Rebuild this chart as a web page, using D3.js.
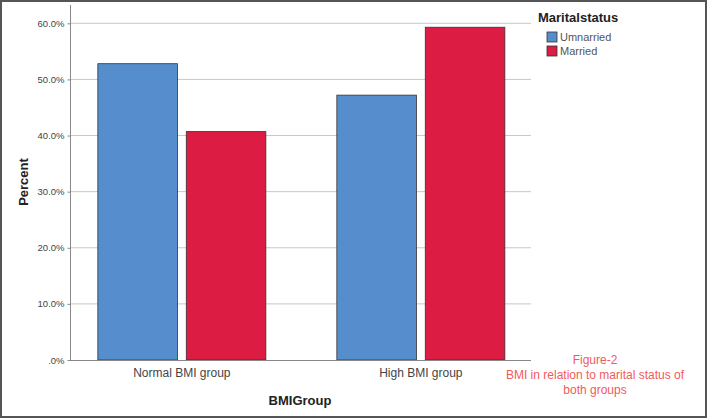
<!DOCTYPE html>
<html><head><meta charset="utf-8">
<script src="https://cdn.jsdelivr.net/npm/d3@7"></script>
<style>body{margin:0;background:#fff}svg{display:block;font-family:"Liberation Sans",Arial,sans-serif}</style>
</head><body>
<svg id="c" width="710" height="418"></svg>
<script>
const categories = ["Normal BMI group", "High BMI group"];
const seriesNames = ["Umnarried", "Married"];
const unmarried = [52.8, 47.2];
const married = [40.7, 59.3];
const yTicks = [0, 10, 20, 30, 40, 50, 60];
const colors = ["#568ecd", "#dc1c42"];
const captionLines = ["Figure-2", "BMI in relation to marital status of", "both groups"];

const svg = d3.select("#c");
svg.append("rect").attr("x",1).attr("y",1).attr("width",705).attr("height",416)
  .attr("fill","#fff").attr("stroke","#555").attr("stroke-width",2);

const y = d3.scaleLinear().domain([0,60]).range([360,23.3]);
const x0 = d3.scaleBand().domain(categories).range([62.35,540.35]).paddingInner(0.297).paddingOuter(0.1485);
const x1 = d3.scaleBand().domain(seriesNames).range([0,x0.bandwidth()]).paddingInner(0.1);

// gridlines
svg.append("g").selectAll("line").data(yTicks.filter(d=>d>0)).join("line")
  .attr("x1",71).attr("x2",531).attr("y1",d=>y(d)).attr("y2",d=>y(d))
  .attr("stroke","#c8c8c8").attr("stroke-width",1);

// y axis
const yAxis = d3.axisLeft(y).tickValues(yTicks).tickSize(3).tickPadding(3)
  .tickFormat(d => d===0 ? ".0%" : d.toFixed(1)+"%");
const gy = svg.append("g").attr("transform","translate(70.5,0)").call(yAxis);
gy.select(".domain").attr("d","M0,5V360").attr("stroke","#888");
gy.selectAll(".tick line").attr("stroke","#888");
gy.selectAll(".tick text").attr("fill","#444").style("font-size","9.5px");

// bars
const data = categories.map((c,i)=>({cat:c, vals:[unmarried[i], married[i]]}));
const g = svg.append("g").selectAll("g").data(data).join("g")
  .attr("transform",d=>`translate(${x0(d.cat)},0)`);
g.selectAll("rect").data(d=>d.vals.map((v,j)=>({s:seriesNames[j], v, j}))).join("rect")
  .attr("x",d=>x1(d.s)).attr("width",x1.bandwidth())
  .attr("y",d=>y(d.v)).attr("height",d=>y(0)-y(d.v))
  .attr("fill",d=>colors[d.j]).attr("stroke","#333").attr("stroke-width",0.8);

// x axis baseline
svg.append("line").attr("x1",70).attr("x2",531).attr("y1",360.5).attr("y2",360.5).attr("stroke","#888");

// x labels
svg.append("g").selectAll("text").data(categories).join("text")
  .attr("x",d=>x0(d)+x0.bandwidth()/2).attr("y",377)
  .attr("text-anchor","middle").attr("fill","#444").style("font-size","12px").text(d=>d);

svg.append("text").attr("x",300).attr("y",405).attr("text-anchor","middle")
  .style("font-size","13px").style("font-weight","bold").attr("fill","#222").text("BMIGroup");
svg.append("text").attr("transform","translate(28,182) rotate(-90)").attr("text-anchor","middle")
  .style("font-size","13px").style("font-weight","bold").attr("fill","#222").text("Percent");

// legend
svg.append("text").attr("x",538).attr("y",22).style("font-size","13px").style("font-weight","bold")
  .attr("fill","#222").text("Maritalstatus");
const lg = svg.append("g").selectAll("g").data(seriesNames).join("g")
  .attr("transform",(d,i)=>`translate(547,${32+i*14})`);
lg.append("rect").attr("width",10).attr("height",10).attr("fill",(d,i)=>colors[i]).attr("stroke","#333").attr("stroke-width",0.8);
lg.append("text").attr("x",13).attr("y",9).style("font-size","11px").attr("fill","#555").text(d=>d);

// caption
svg.append("g").selectAll("text").data(captionLines).join("text")
  .attr("x",595).attr("y",(d,i)=>364+i*15).attr("text-anchor","middle")
  .attr("fill","#f25a5a").style("font-size","12px").text(d=>d);
</script>
</body></html>
